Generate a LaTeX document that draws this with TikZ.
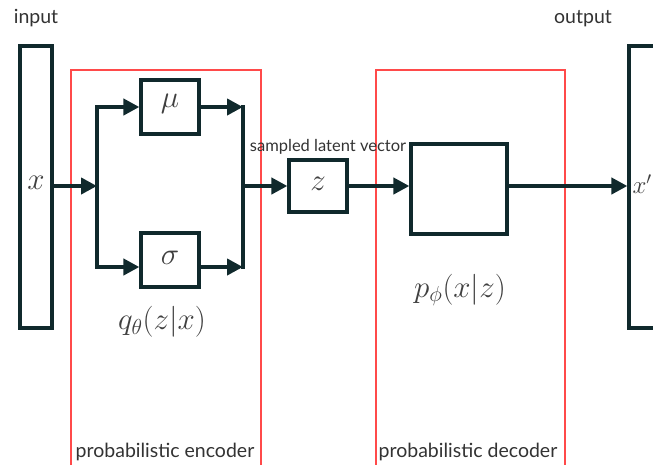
\RequirePackage{fix-cm}
\documentclass[tikz,border=0pt]{standalone}
\usepackage{fontspec}
\setsansfont{Lato}
\usetikzlibrary{arrows.meta}
\definecolor{ink}{HTML}{10292C}
\definecolor{frame}{HTML}{FF4A4A}
\tikzset{
  blk/.style={draw=ink, line width=3.2pt, fill=white, inner sep=0pt},
  flow/.style={draw=ink, line width=4.5pt, -{Triangle[length=16pt,width=16pt]}},
  wire/.style={draw=ink, line width=4.5pt},
  group/.style={draw=frame, line width=2.6pt},
  lbl/.style={font=\sffamily\fontsize{19.5}{22}\selectfont, text=black!80, inner sep=0pt},
  small/.style={font=\sffamily\fontsize{16.5}{19}\selectfont, text=black!80, inner sep=0pt},
  mth/.style={font=\fontsize{31}{33}\selectfont, text=black!75, inner sep=0pt}
}
\begin{document}
\begin{tikzpicture}[x=1pt, y=-1pt]
\useasboundingbox (0,0) rectangle (653,464);
\clip (0,0) rectangle (653,464);

% encoder and decoder frames (open towards the bottom)
\draw[group] (71,475) -- (71,70) -- (261,70) -- (261,475);
\draw[group] (376,475) -- (376,70) -- (565,70) -- (565,475);
\node[lbl, anchor=base] (enc) at (165,457) {probabilistic encoder};
\node[lbl, anchor=base] (dec) at (468,457) {probabilistic decoder};

% input and output vectors
\node[blk, minimum width=32pt, minimum height=282pt] (xin) at (36,187) {};
\node[mth] at (36,183) {$x$};
\node[lbl, anchor=base] (inp) at (36,23) {input};
\node[blk, minimum width=40pt, minimum height=282pt] (xout) at (649,187) {};
\node[mth, font=\fontsize{25}{27}\selectfont, anchor=east] at (652,184) {$x'$};
\node[lbl, anchor=base] (outp) at (583,23) {output};

% encoder blocks
\node[blk, minimum width=58pt, minimum height=54pt] (mu) at (170,107) {};
\node[mth] at (170,104) {$\mu$};
\node[blk, minimum width=58pt, minimum height=54pt] (sigma) at (170,260) {};
\node[mth] at (170,258) {$\sigma$};
\node[mth] (q) at (162,322) {$q_\theta(z|x)$};

% latent vector
\node[blk, minimum width=58pt, minimum height=52pt] (z) at (318,186) {};
\node[mth] at (318,184) {$z$};
\node[small, anchor=base] (zl) at (328,151) {sampled latent vector};

% decoder block
\node[blk, minimum width=96pt, minimum height=90pt] (dbox) at (459,189) {};
\node[mth] (p) at (460,290) {$p_\phi(x|z)$};

% junction points
\coordinate (jl) at (97,186);
\coordinate (jlt) at (97,107);
\coordinate (jlb) at (97,267);
\coordinate (jr) at (243,186);
\coordinate (jrt) at (243,107);
\coordinate (jrb) at (243,267);

% connectors
\draw[flow] (xin.east |- jl) -- (jl);
\draw[wire, line cap=rect] (jlt) -- (jlb);
\draw[flow] (jlt) -- (mu.west |- jlt);
\draw[flow] (jlb) -- (sigma.west |- jlb);
\draw[flow] (mu.east |- jrt) -- (jrt);
\draw[flow] (sigma.east |- jrb) -- (jrb);
\draw[wire, line cap=rect] (jrt) -- (jrb);
\draw[flow] (jr) -- (z.west);
\draw[flow] (z.east) -- (dbox.west |- z.east);
\draw[flow] (dbox.east |- z.east) -- (xout.west |- z.east);
\end{tikzpicture}
\end{document}
